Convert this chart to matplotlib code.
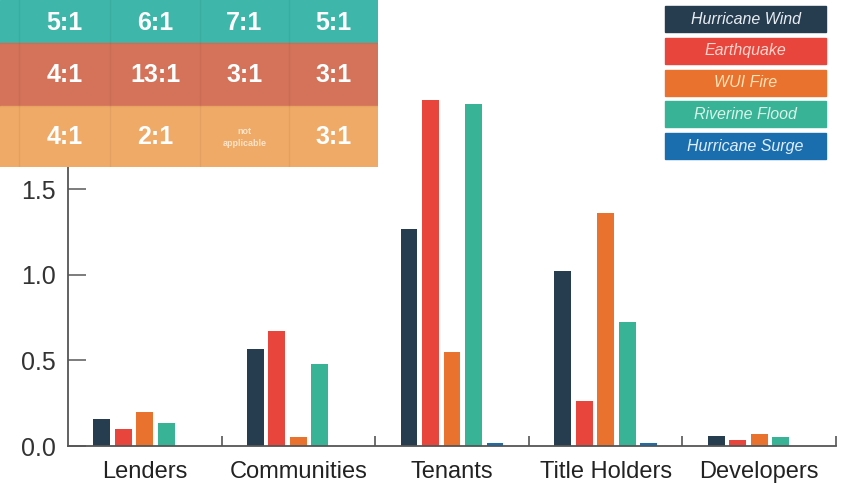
import numpy as np
import matplotlib.pyplot as plt
from matplotlib.patches import Rectangle

plt.rcParams['font.family'] = ['Liberation Sans', 'DejaVu Sans']

groups = ['Lenders', 'Communities', 'Tenants', 'Title Holders', 'Developers']
hazards = ['Hurricane Wind', 'Earthquake', 'WUI Fire', 'Riverine Flood', 'Hurricane Surge']
colors = ['#263d50', '#e8453c', '#e9722f', '#38b395', '#1b6eae']
label_colors = ['#e8edf2', '#fbd6cf', '#fde3b8', '#d8f3ea', '#e0eefa']

wind = [0.16, 0.565, 1.27, 1.02, 0.058]
quake = [0.10, 0.67, 2.02, 0.265, 0.035]
wui = [0.20, 0.054, 0.55, 1.36, 0.07]
flood = [0.136, 0.48, 2.00, 0.726, 0.05]
surge = [0.0, 0.0, 0.016, 0.02, 0.0]
series = [wind, quake, wui, flood, surge]

# benefit-cost ratios shown in the banner
row_colors = ['#3eb7aa', '#d4735a', '#f0aa67']
ratios = [['5:1', '6:1', '7:1', '5:1'],
          ['4:1', '13:1', '3:1', '3:1'],
          ['4:1', '2:1', 'not\napplicable', '3:1']]

W, H = 846, 483
fig = plt.figure(figsize=(W / 100, H / 100), dpi=100)
ax = fig.add_axes([68 / W, (H - 446) / H, (836 - 68) / W, 446 / H])

x = np.arange(len(groups))
for i, vals in enumerate(series):
    ax.bar(x + (i - 2) * 0.14, vals, width=0.11, color=colors[i], zorder=2)

ax.set_xlim(-0.5, len(groups) - 0.5)
ax.set_ylim(0, 2.605)
for s in ['top', 'right']:
    ax.spines[s].set_visible(False)
for s in ['left', 'bottom']:
    ax.spines[s].set_color('#555555')
    ax.spines[s].set_linewidth(1.3)

ax.set_yticks([0, 0.5, 1.0, 1.5, 2.0])
ax.set_yticklabels(['0.0', '0.5', '1.0', '1.5', '2.0'])
ax.tick_params(axis='y', direction='in', length=13, width=1.2, color='#666666',
               labelsize=18, labelcolor='#333333', pad=9)

ax.set_xticks(x + 0.5)
ax.set_xticklabels([])
ax.set_xticks(x, minor=True)
ax.set_xticklabels(groups, minor=True)
ax.tick_params(axis='x', which='major', direction='in', length=7, width=1.2, color='#555555')
ax.tick_params(axis='x', which='minor', length=0, labelsize=17, labelcolor='#222222', pad=11)

# legend as stacked colored boxes
for i, name in enumerate(hazards):
    top = 6 + i * 31.8
    fig.add_artist(Rectangle((665 / W, 1 - (top + 26) / H), 161 / W, 26 / H,
                             transform=fig.transFigure, color=colors[i]))
    fig.text(745.5 / W, 1 - (top + 13) / H, name, color=label_colors[i], style='italic',
             fontsize=11.5, ha='center', va='center')

# ratio banner in the upper left
tab = fig.add_axes([0, 1 - 167 / H, 378 / W, 167 / H])
tab.set_xlim(0, 378)
tab.set_ylim(167, 0)
tab.axis('off')
row_edges = [0, 43, 106, 167]
col_edges = [0, 19, 110, 200, 289, 378]
for r, row in enumerate(ratios):
    y0, y1 = row_edges[r], row_edges[r + 1]
    tab.add_patch(Rectangle((0, y0), 378, y1 - y0, color=row_colors[r]))
    for c, txt in enumerate(row):
        cx = (col_edges[c + 1] + col_edges[c + 2]) / 2
        cy = (y0 + y1) / 2 + 1
        if '\n' in txt:
            tab.text(cx, cy, txt, color='#fbe3c8', fontsize=6.5, fontweight='bold',
                     ha='center', va='center', linespacing=1.3)
        else:
            tab.text(cx, cy, txt, color='white', fontsize=18, fontweight='bold',
                     ha='center', va='center')
for xc in col_edges[1:-1]:
    tab.plot([xc, xc], [0, 167], color='#000000', alpha=0.05, lw=1)
for yr in row_edges[1:-1]:
    tab.plot([0, 378], [yr, yr], color='#000000', alpha=0.04, lw=1)

fig.savefig('out.png', dpi=100)
